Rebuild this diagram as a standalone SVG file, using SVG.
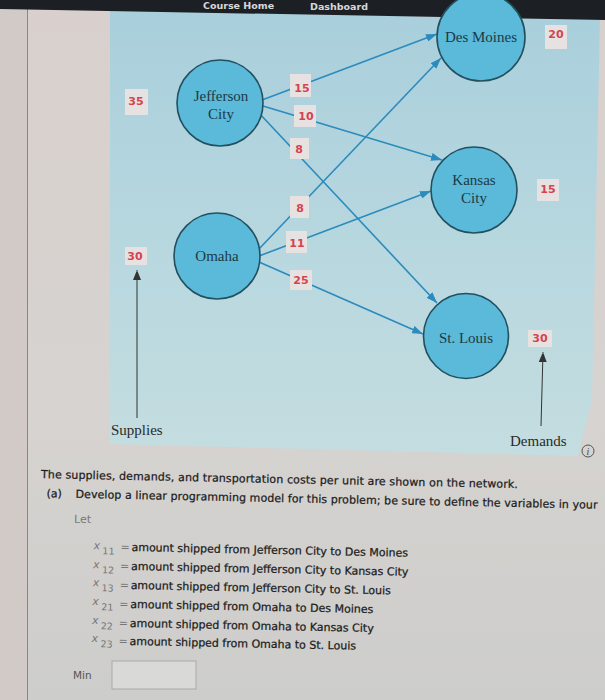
<svg xmlns="http://www.w3.org/2000/svg" width="605" height="700" viewBox="0 0 605 700">
<defs>
<linearGradient id="page" x1="0" y1="0" x2="0" y2="1">
<stop offset="0" stop-color="#d9d0cd"/>
<stop offset="0.6" stop-color="#d6d3d0"/>
<stop offset="1" stop-color="#cdcdcb"/>
</linearGradient>
<linearGradient id="blue" x1="0" y1="0" x2="0" y2="1">
<stop offset="0" stop-color="#a9cfdc"/>
<stop offset="0.5" stop-color="#b7d7df"/>
<stop offset="1" stop-color="#c4dde0"/>
</linearGradient>
<marker id="arr" markerUnits="userSpaceOnUse" markerWidth="11" markerHeight="8" refX="11" refY="4" orient="auto">
<path d="M0,0 L11,4 L0,8 z" fill="#2b8bbd"/>
</marker>
<marker id="arrk" markerUnits="userSpaceOnUse" markerWidth="8" markerHeight="10" refX="10" refY="4" orient="auto">
<path d="M0,0 L10,4 L0,8 z" fill="#333"/>
</marker>
<style>
.node{fill:#5bb9da;stroke:#22505f;stroke-width:1.6}
.nl{font-family:"Liberation Serif","Times New Roman",serif;font-size:15px;fill:#1d3a44;text-anchor:middle}
.num{font-family:"DejaVu Sans",Verdana,sans-serif;font-size:11px;font-weight:bold;fill:#d6434f;text-anchor:middle}
.nbox{fill:#e6e2e1}
.edge{stroke:#2b8bbd;stroke-width:1.6;fill:none;marker-end:url(#arr)}
.txt{font-family:"DejaVu Sans",Verdana,sans-serif;font-size:11px;fill:#1c1c1c;stroke:#1c1c1c;stroke-width:0.25}
.gr{font-family:"DejaVu Sans",Verdana,sans-serif;fill:#777}
.lbl{font-family:"Liberation Serif","Times New Roman",serif;font-size:15px;fill:#2a2a2a}
</style>
</defs>
<rect x="0" y="0" width="605" height="700" fill="url(#page)"/>
<rect x="0" y="0" width="27" height="700" fill="#d1cac7"/>
<line x1="27.5" y1="0" x2="27.5" y2="700" stroke="#8a8684" stroke-width="1"/>
<polygon points="110,10 600,20 592,400 578,456 110,444" fill="url(#blue)"/>
<polygon points="0,0 605,0 605,20 0,9" fill="#1c2024"/>
<text x="203" y="9" font-family="DejaVu Sans,sans-serif" font-size="9.5" font-weight="bold" fill="#d8d8d8">Course Home</text>
<text x="310" y="10" font-family="DejaVu Sans,sans-serif" font-size="9.5" font-weight="bold" fill="#d8d8d8">Dashboard</text>

<g id="connectors">
<line class="edge" x1="262" y1="100" x2="437" y2="34"/>
<line class="edge" x1="263" y1="106" x2="442" y2="160"/>
<line class="edge" x1="259" y1="113" x2="437" y2="303"/>
<line class="edge" x1="258" y1="250" x2="441" y2="58"/>
<line class="edge" x1="259" y1="256" x2="431" y2="191"/>
<line class="edge" x1="259" y1="262" x2="423" y2="334"/>
<line x1="137" y1="418" x2="137" y2="270" stroke="#333" stroke-width="1" marker-end="url(#arrk)"/>
<line x1="541" y1="426" x2="543" y2="352" stroke="#333" stroke-width="1" marker-end="url(#arrk)"/>
</g>

<g id="costs">
<rect class="nbox" x="290" y="74" width="21" height="23"/>
<text class="num" x="302" y="92">15</text>
<rect class="nbox" x="294" y="105" width="22" height="22"/>
<text class="num" x="306" y="120">10</text>
<rect class="nbox" x="290" y="138" width="19" height="21"/>
<text class="num" x="299" y="153">8</text>
<rect class="nbox" x="290" y="196" width="19" height="22"/>
<text class="num" x="300" y="212">8</text>
<rect class="nbox" x="286" y="231" width="21" height="22"/>
<text class="num" x="297" y="247">11</text>
<rect class="nbox" x="290" y="270" width="22" height="20"/>
<text class="num" x="301" y="284">25</text>
</g>

<g id="node-jefferson">
<circle class="node" cx="220" cy="103" r="43"/>
<text class="nl" x="221" y="101">Jefferson</text>
<text class="nl" x="221" y="119">City</text>
</g>
<g id="node-omaha">
<circle class="node" cx="217" cy="256" r="43"/>
<text class="nl" x="217" y="261">Omaha</text>
</g>
<g id="node-desmoines">
<circle class="node" cx="481" cy="37" r="44"/>
<text class="nl" x="481" y="42">Des Moines</text>
</g>
<g id="node-kansas">
<circle class="node" cx="474" cy="190" r="43"/>
<text class="nl" x="474" y="185">Kansas</text>
<text class="nl" x="474" y="203">City</text>
</g>
<g id="node-stlouis">
<circle class="node" cx="466" cy="336" r="42.5"/>
<text class="nl" x="466" y="343">St. Louis</text>
</g>

<g id="supply-demand">
<rect class="nbox" x="125" y="89" width="23" height="26"/>
<text class="num" x="136" y="105">35</text>
<rect class="nbox" x="125" y="247" width="22" height="18"/>
<text class="num" x="135" y="260">30</text>
<rect class="nbox" x="545" y="25" width="22" height="24"/>
<text class="num" x="556" y="38">20</text>
<rect class="nbox" x="537" y="179" width="22" height="22"/>
<text class="num" x="548" y="193">15</text>
<rect class="nbox" x="528" y="330" width="24" height="17"/>
<text class="num" x="540" y="342">30</text>
<text class="lbl" x="111" y="435">Supplies</text>
<text class="lbl" x="510" y="446">Demands</text>
</g>

<g id="info">
<circle cx="588" cy="451" r="6" fill="none" stroke="#555" stroke-width="1"/>
<text x="588" y="455" font-family="Liberation Serif,serif" font-style="italic" font-size="10" fill="#444" text-anchor="middle">i</text>
</g>

<g transform="rotate(1.2 40 475)">
<text class="txt" x="41" y="478" textLength="477">The supplies, demands, and transportation costs per unit are shown on the network.</text>
<text class="txt" x="47" y="497">(a)</text>
<text class="txt" x="76" y="497" textLength="522">Develop a linear programming model for this problem; be sure to define the variables in your</text>
<text class="gr" x="75" y="522" font-size="11" fill="#555">Let</text>

<g id="vars">
<text class="gr" x="95" y="548" font-size="11" font-style="italic">x</text><text class="gr" x="104" y="553" font-size="9.5">11</text><text class="gr" x="122" y="549" font-size="11">=</text>
<text class="txt" x="133" y="549">amount shipped from Jefferson City to Des Moines</text>
<text class="gr" x="95" y="567" font-size="11" font-style="italic">x</text><text class="gr" x="104" y="572" font-size="9.5">12</text><text class="gr" x="122" y="568" font-size="11">=</text>
<text class="txt" x="133" y="568">amount shipped from Jefferson City to Kansas City</text>
<text class="gr" x="95" y="585" font-size="11" font-style="italic">x</text><text class="gr" x="104" y="590" font-size="9.5">13</text><text class="gr" x="122" y="587" font-size="11">=</text>
<text class="txt" x="133" y="587">amount shipped from Jefferson City to St. Louis</text>
<text class="gr" x="95" y="604" font-size="11" font-style="italic">x</text><text class="gr" x="104" y="609" font-size="9.5">21</text><text class="gr" x="122" y="606" font-size="11">=</text>
<text class="txt" x="133" y="606">amount shipped from Omaha to Des Moines</text>
<text class="gr" x="95" y="623" font-size="11" font-style="italic">x</text><text class="gr" x="104" y="628" font-size="9.5">22</text><text class="gr" x="122" y="625" font-size="11">=</text>
<text class="txt" x="133" y="625">amount shipped from Omaha to Kansas City</text>
<text class="gr" x="95" y="641" font-size="11" font-style="italic">x</text><text class="gr" x="104" y="646" font-size="9.5">23</text><text class="gr" x="122" y="643" font-size="11">=</text>
<text class="txt" x="133" y="643">amount shipped from Omaha to St. Louis</text>
</g>
</g>

<g id="min">
<text x="73" y="679" font-family="DejaVu Sans,Verdana,sans-serif" font-size="10.5" fill="#555">Min</text>
<rect x="112" y="661" width="84" height="28" fill="#d9d9d7" stroke="#a9a9a9" stroke-width="1"/>
</g>
</svg>
